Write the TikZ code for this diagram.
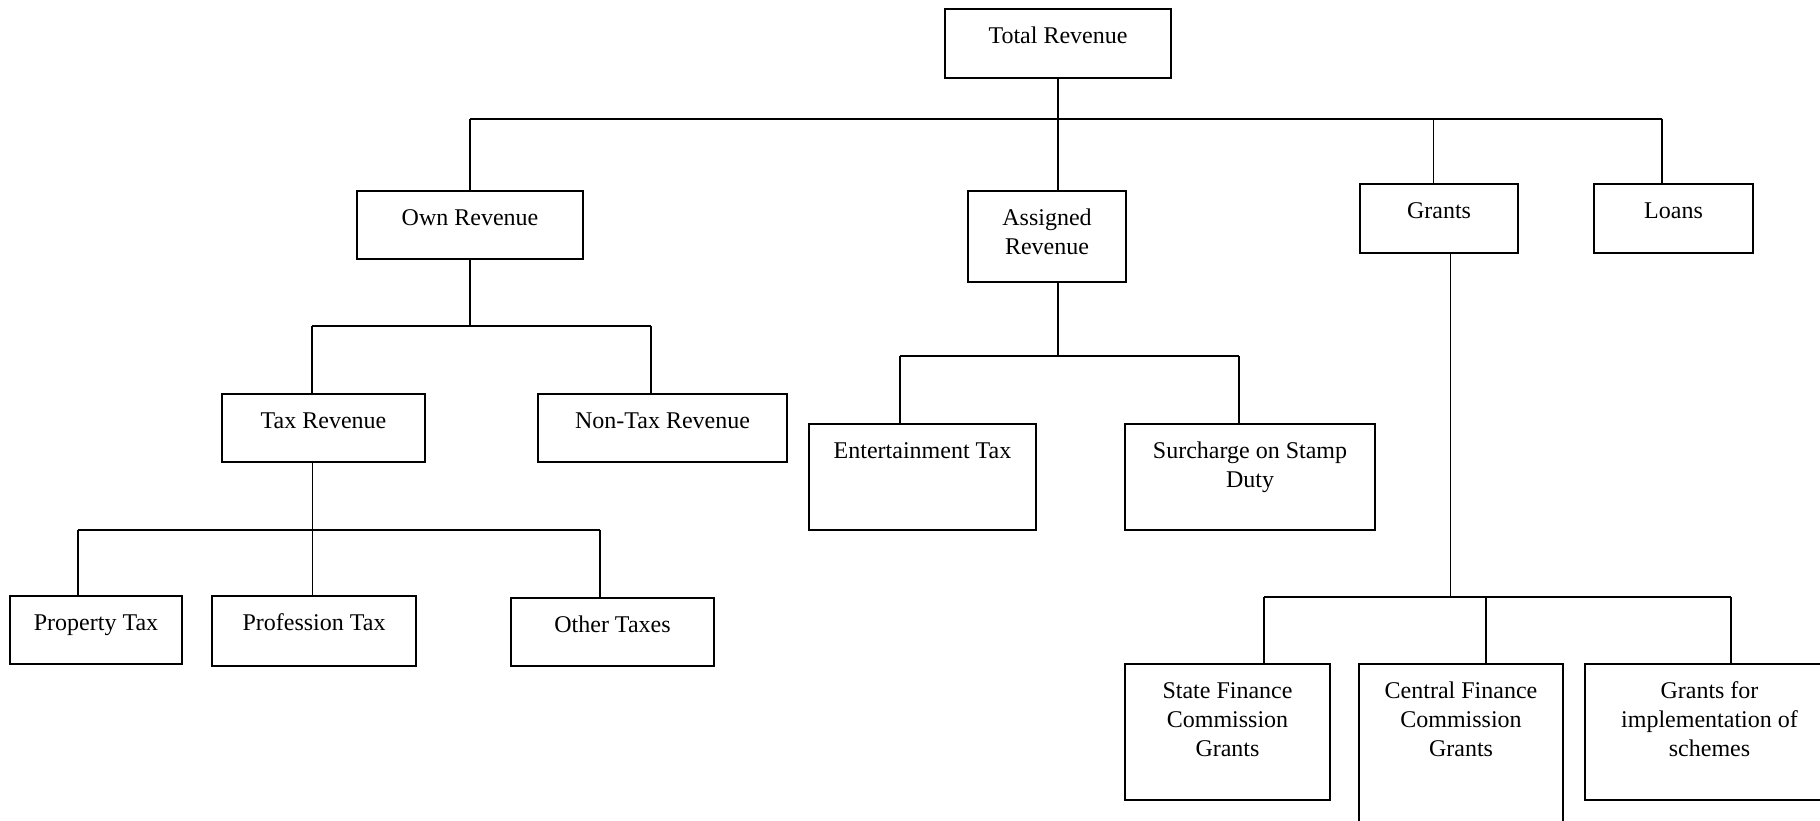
\documentclass[tikz,border=0pt]{standalone}
\usepackage{fontspec}
\setmainfont{Liberation Serif}
\newcommand\bxt[3]{\parbox[c][\dimexpr #2pt/2\relax][t]{\dimexpr #1pt/2\relax}{\centering\rule{0pt}{17pt}#3\par}}
\begin{document}
\begin{tikzpicture}[x=0.5pt,y=-0.5pt,
  box/.style={draw, line width=0.8pt, inner sep=0pt, outer sep=0pt, font=\fontsize{12}{14.6}\selectfont},
  conn/.style={line width=0.8pt},
  thinconn/.style={line width=0.5pt}]
\clip (0,0) rectangle (1820,820);
\fill[white] (0,0) rectangle (1820,820);

% boxes
\node[box] (total)      at (1058,43.5)   {\bxt{226}{69}{Total Revenue}};
\node[box] (own)        at (470,225)     {\bxt{226}{68}{Own Revenue}};
\node[box] (assigned)   at (1047,236.5)  {\bxt{158}{91}{Assigned\\Revenue}};
\node[box] (grants)     at (1439,218.5)  {\bxt{158}{69}{Grants}};
\node[box] (loans)      at (1673.5,218.5){\bxt{159}{69}{Loans}};
\node[box] (taxrev)     at (323.5,428)   {\bxt{203}{68}{Tax Revenue}};
\node[box] (nontax)     at (662.5,428)   {\bxt{249}{68}{Non-Tax Revenue}};
\node[box] (ent)        at (922.5,477)   {\bxt{227}{106}{Entertainment Tax}};
\node[box] (surcharge)  at (1250,477)    {\bxt{250}{106}{Surcharge on Stamp\\Duty}};
\node[box] (property)   at (96,630)      {\bxt{172}{68}{Property Tax}};
\node[box] (profession) at (314,631)     {\bxt{204}{70}{Profession Tax}};
\node[box] (other)      at (612.5,632)   {\bxt{203}{68}{Other Taxes}};
\node[box] (state)      at (1227.5,732)  {\bxt{205}{136}{State Finance\\Commission\\Grants}};
\node[box] (central)    at (1461,754)    {\bxt{204}{180}{Central Finance\\Commission\\Grants}};
\node[box] (grantsfor)  at (1709.5,732)  {\bxt{249}{136}{Grants for\\implementation of\\schemes}};

% level 1 bus
\coordinate (b1L) at (470,119);
\coordinate (b1R) at (1662,119);
\coordinate (g1)  at (1433.5,119);
\draw[conn] (b1L) -- (b1R);
\draw[conn] (total.south) -- (total.south |- assigned.north);
\draw[conn] (b1L) -- (b1L |- own.north);
\draw[conn] (g1) -- (g1 |- grants.north);
\draw[conn] (b1R) -- (b1R |- loans.north);

% own revenue
\coordinate (b2L) at (312,326);
\coordinate (b2R) at (651,326);
\draw[conn] (own.south) -- (own.south |- b2L);
\draw[conn] (b2L) -- (b2R);
\draw[conn] (b2L) -- (b2L |- taxrev.north);
\draw[conn] (b2R) -- (b2R |- nontax.north);

% tax revenue
\coordinate (t1) at (b2L |- taxrev.south);
\coordinate (b3L) at (78,530);
\coordinate (b3R) at (600,530);
\draw[thinconn] (t1) -- (t1 |- profession.north);
\draw[conn] (b3L) -- (b3R);
\draw[conn] (b3L) -- (b3L |- property.north);
\draw[conn] (b3R) -- (b3R |- other.north);

% assigned revenue
\coordinate (b4L) at (900,356);
\coordinate (b4R) at (1239,356);
\draw[conn] (total.south |- assigned.south) -- (total.south |- b4L);
\draw[conn] (b4L) -- (b4R);
\draw[conn] (b4L) -- (b4L |- ent.north);
\draw[conn] (b4R) -- (b4R |- surcharge.north);

% grants
\coordinate (g2)  at (1450,597);
\coordinate (b5L) at (1264,597);
\coordinate (b5M) at (1486,597);
\coordinate (b5R) at (1731,597);
\draw[thinconn] (g2 |- grants.south) -- (g2);
\draw[conn] (b5L) -- (b5R);
\draw[conn] (b5L) -- (b5L |- state.north);
\draw[conn] (b5M) -- (b5M |- central.north);
\draw[conn] (b5R) -- (b5R |- grantsfor.north);
\end{tikzpicture}
\end{document}
